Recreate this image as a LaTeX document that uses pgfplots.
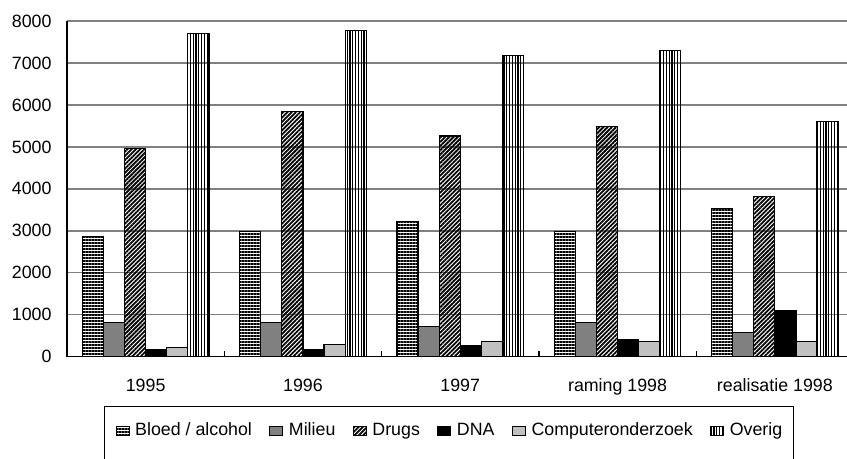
\documentclass[border=0pt]{standalone}
\usepackage{fontspec}
\setmainfont{Liberation Sans}
\usepackage{pgfplots}
\pgfplotsset{compat=1.18}
\usetikzlibrary{patterns.meta}

\definecolor{milieu}{HTML}{808080}
\definecolor{comp}{HTML}{C0C0C0}
\definecolor{gridc}{HTML}{808080}

\newcommand\chartfont{\fontsize{8.9}{10}\selectfont}

\begin{document}
\begin{tikzpicture}
% picture is cropped at the right and bottom, like the original
\useasboundingbox (0,0) rectangle (423.5pt,229.5pt);
\clip (0,0) rectangle (423.5pt,229.5pt);
\begin{axis}[
    at={(33.5pt,51.15pt)}, anchor=south west,
    scale only axis, width=393.25pt, height=167.85pt,
    ybar=0pt, bar width=10.55pt,
    xmin=-0.5, xmax=4.5, ymin=0, ymax=8000,
    xtick={0,...,4},
    xticklabels={1995,1996,1997,raming 1998,realisatie 1998},
    minor x tick num=1,
    ytick={0,1000,...,8000},
    major tick length=0pt, minor tick length=3pt,
    tick align=inside,
    tick style={black, line width=0.6pt},
    axis x line*=bottom, axis y line*=left,
    axis line style={black, line width=0.8pt},
    every outer x axis line/.append style={-},
    every outer y axis line/.append style={-},
    ymajorgrids, grid style={gridc, line width=0.7pt},
    tick label style={font=\chartfont},
    /pgf/number format/assume math mode=true,
    /pgf/number format/1000 sep={},
    scaled y ticks=false,
    yticklabel style={xshift=-4.2pt},
    xticklabel style={yshift=-7.6pt},
    legend columns=6,
    legend style={at={(0.04704,-0.14686)}, anchor=north west,
        draw=black, line width=0.6pt, inner xsep=5.5pt, inner ysep=6.8pt,
        font=\chartfont,
        /tikz/every even column/.append style={column sep=8.7pt},
        /tikz/every odd column/.append style={column sep=2.8pt},
        nodes={inner xsep=0pt, inner ysep=0pt, text height=0.75em, text depth=0.25em+6pt}},
    legend image code/.code={\draw[#1, line width=0.5pt] (0pt,-0.25em+3pt) rectangle (6.5pt,-0.25em+7.2pt);},
]
    % Bloed / alcohol
    \addplot[draw=black, line width=0.6pt, pattern={Lines[angle=0,distance=1.5pt,line width=0.6pt]}]
        coordinates {(0,2860) (1,2980) (2,3230) (3,2980) (4,3530)};
    % Milieu
    \addplot[draw=black, line width=0.6pt, fill=milieu]
        coordinates {(0,810) (1,820) (2,720) (3,820) (4,570)};
    % Drugs
    \addplot[draw=black, line width=0.6pt, pattern={Lines[angle=45,distance=1.5pt,line width=0.9pt]}]
        coordinates {(0,4970) (1,5850) (2,5260) (3,5490) (4,3820)};
    % DNA
    \addplot[draw=black, line width=0.6pt, fill=black]
        coordinates {(0,180) (1,180) (2,260) (3,410) (4,1100)};
    % Computeronderzoek
    \addplot[draw=black, line width=0.6pt, fill=comp]
        coordinates {(0,220) (1,290) (2,370) (3,370) (4,360)};
    % Overig
    \addplot[draw=black, line width=0.6pt, pattern={Lines[angle=90,distance=1.4pt,line width=0.6pt]}]
        coordinates {(0,7700) (1,7770) (2,7170) (3,7300) (4,5610)};

    \legend{Bloed / alcohol, Milieu, Drugs, DNA, Computeronderzoek, Overig}
\end{axis}
\end{tikzpicture}
\end{document}
